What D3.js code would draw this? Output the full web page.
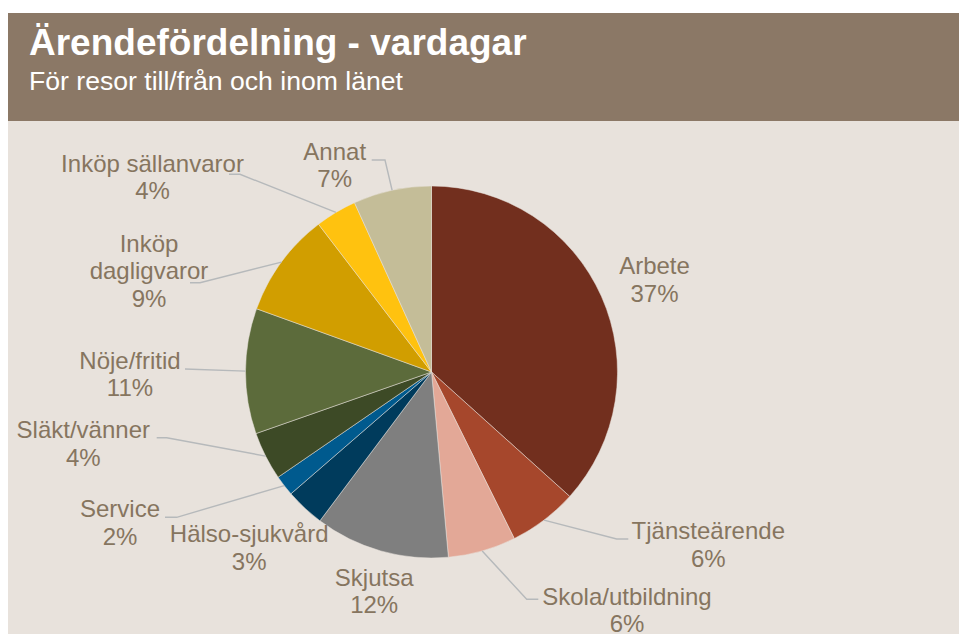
<!DOCTYPE html>
<html>
<head>
<meta charset="utf-8">
<script src="https://cdn.jsdelivr.net/npm/d3@7/dist/d3.min.js"></script>
<style>
  html, body { margin: 0; padding: 0; background: #ffffff; }
  svg { display: block; }
  text { font-family: "Liberation Sans", Arial, sans-serif; }
</style>
</head>
<body>
<svg id="chart" width="959" height="634"></svg>
<script>
// ---- Data ----
const title = "Ärendefördelning - vardagar";
const subtitle = "För resor till/från och inom länet";
const categories = ["Arbete", "Tjänsteärende", "Skola/utbildning", "Skjutsa", "Hälso-sjukvård",
  "Service", "Släkt/vänner", "Nöje/fritid", "Inköp dagligvaror", "Inköp sällanvaror", "Annat"];
const values = [36.7, 6.0, 5.9, 11.7, 3.4, 1.8, 4.2, 10.9, 9.1, 3.6, 6.8];
const percentLabels = ["37%", "6%", "6%", "12%", "3%", "2%", "4%", "11%", "9%", "4%", "7%"];
const colors = ["#722F1E", "#A6472C", "#E3A897", "#7F7F7F", "#003B5C", "#005A8E",
  "#3D4A26", "#5C6B3B", "#D19E00", "#FFC20F", "#C4BD98"];

// ---- Label layout (positions of text blocks and leader elbows) ----
const labelLines = [["Arbete"], ["Tjänsteärende"], ["Skola/utbildning"], ["Skjutsa"], ["Hälso-sjukvård"],
  ["Service"], ["Släkt/vänner"], ["Nöje/fritid"], ["Inköp", "dagligvaror"], ["Inköp sällanvaror"], ["Annat"]];
const labelPos = [[654.5, 274.3], [708.3, 539.3], [627, 605], [374.2, 585.7], [249.2, 542.3],
  [120, 517.3], [83.3, 438.3], [130, 369], [149, 251.7], [152.5, 171.7], [334.7, 160]];
const leaderElbows = [null, [[616.7, 539], [628.3, 539]], [[526.7, 599.3], [538.3, 599.3]], null, null,
  [[176.7, 517.3], [165, 517.3]], [[166.7, 437.7], [156.7, 437.7]], [[185, 369]],
  [[200, 282.7], [190, 282.7]], [[240, 174.3], [229, 174.3]], [[385, 160], [371.7, 160]]];

const W = 959, H = 634;
const cx = 431.5, cy = 372, R = 186;
const lineStep = 27.4;

const svg = d3.select("#chart");

// panel background
svg.append("rect").attr("x", 8).attr("y", 13).attr("width", W - 8).attr("height", H - 13)
  .attr("fill", "#E8E2DC");
// header band
svg.append("rect").attr("x", 8).attr("y", 13).attr("width", W - 8).attr("height", 108)
  .attr("fill", "#8B7866");
svg.append("text").attr("x", 29).attr("y", 55).attr("fill", "#ffffff")
  .attr("font-size", 37).attr("font-weight", "bold").text(title);
svg.append("text").attr("x", 29).attr("y", 90).attr("fill", "#ffffff")
  .attr("font-size", 26.6).text(subtitle);

// pie
const pie = d3.pie().sort(null).value(d => d);
const arcs = pie(values);
const arc = d3.arc().innerRadius(0).outerRadius(R);
const edgeArc = d3.arc().innerRadius(R).outerRadius(R);

const g = svg.append("g").attr("transform", `translate(${cx},${cy})`);
g.selectAll("path.slice").data(arcs).join("path")
  .attr("class", "slice")
  .attr("d", arc)
  .attr("fill", (d, i) => colors[i])
  .attr("stroke", "#E8E2DC")
  .attr("stroke-width", 0.5);

// leader lines
arcs.forEach((d, i) => {
  if (!leaderElbows[i]) return;
  const c = edgeArc.centroid(d);
  const pts = [[c[0] + cx, c[1] + cy]].concat(leaderElbows[i]);
  svg.append("path")
    .attr("d", d3.line()(pts))
    .attr("fill", "none")
    .attr("stroke", "#B6B9BB")
    .attr("stroke-width", 1.4);
});

// labels
categories.forEach((name, i) => {
  const lines = labelLines[i].concat([percentLabels[i]]);
  const t = svg.append("text")
    .attr("text-anchor", "middle")
    .attr("font-size", 24)
    .attr("fill", "#86755F");
  lines.forEach((ln, k) => {
    t.append("tspan").attr("x", labelPos[i][0]).attr("y", labelPos[i][1] + k * lineStep).text(ln);
  });
});
</script>
</body>
</html>
